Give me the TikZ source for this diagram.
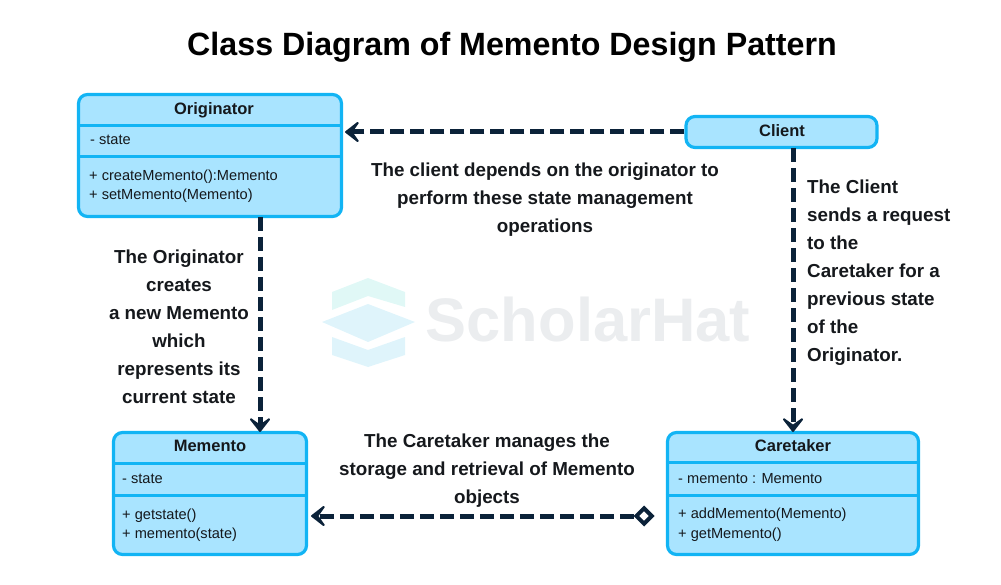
\documentclass[tikz,border=0pt]{standalone}
\usepackage{fontspec}
\setmainfont{Liberation Sans}
\usepackage{xcolor}
\usetikzlibrary{arrows.meta, positioning, shapes.geometric}
\definecolor{boxfill}{HTML}{A9E4FF}
\definecolor{boxline}{HTML}{12B4F4}
\definecolor{navy}{HTML}{0B2239}
\definecolor{inktext}{HTML}{15181C}
\definecolor{logotop}{HTML}{E0F8F6}
\definecolor{logoblue}{HTML}{DFF4FB}
\definecolor{logotext}{HTML}{EBEDEF}
\tikzset{
x=1pt, y=-1pt, % coordinates are counted from the top left corner
classbox/.style={draw=boxline, fill=boxfill, line width=3.2pt, rounded corners=9pt, inner sep=0pt},
divider/.style={draw=boxline, line width=3pt},
classname/.style={font=\fontsize{16.5}{20}\selectfont\bfseries, text=inktext},
member/.style={font=\fontsize{14.6}{19.5}\selectfont, text=inktext, anchor=west, align=left, inner sep=0pt},
note/.style={font=\fontsize{18.8}{28}\selectfont\bfseries, text=inktext, align=center, inner sep=0pt},
link/.style={draw=navy, line width=5pt, dash pattern=on 14pt off 6pt},
open head/.style={-{Stealth[length=18pt, width=28pt, inset=10pt, round, line width=2pt]}},
holder/.style={diamond, draw=navy, fill=white, line width=4pt, inner sep=0pt, minimum size=17pt},
}

\begin{document}
\begin{tikzpicture}
    \useasboundingbox (0,0) rectangle (1001,585);

    % faded logo behind everything
    \fill[logotop] (332,292) -- (368,278) -- (405,292) -- (405,307) -- (368,296) -- (332,310) -- cycle;
    \fill[logoblue] (322,322) -- (368,304) -- (415,322) -- (368,342) -- cycle;
    \fill[logoblue] (332,337) -- (368,350) -- (405,337) -- (405,355) -- (368,367) -- (332,355) -- cycle;
    \node[font=\fontsize{61.5}{64}\selectfont\bfseries, text=logotext, inner sep=0pt] (logo) at (588,320) {ScholarHat};

    \node[font=\fontsize{32.2}{36}\selectfont\bfseries, text=black, inner sep=0pt] (title) at (512,47) {Class Diagram of Memento Design Pattern};

    % the four classes
    \node[classbox, minimum width=263pt, minimum height=122pt] (originator) at (210,155.5) {};
    \node[classbox, minimum width=191pt, minimum height=31pt] (client) at (781.5,132) {};
    \node[classbox, minimum width=193pt, minimum height=122pt] (memento) at (210,493.5) {};
    \node[classbox, minimum width=251pt, minimum height=122pt] (caretaker) at (793,493.5) {};

    \draw[divider] (originator.west |- 0,125.5) -- (originator.east |- 0,125.5);
    \draw[divider] (originator.west |- 0,157) -- (originator.east |- 0,157);
    \draw[divider] (memento.west |- 0,463) -- (memento.east |- 0,463);
    \draw[divider] (memento.west |- 0,495) -- (memento.east |- 0,495);
    \draw[divider] (caretaker.west |- 0,462) -- (caretaker.east |- 0,462);
    \draw[divider] (caretaker.west |- 0,495) -- (caretaker.east |- 0,495);

    \node[classname] (originatorname) at (214,110) {Originator};
    \node[member] (originatorstate) at (90,140) {- state};
    \node[member] (originatorops) at (89,186) {+ createMemento():Memento\\+ setMemento(Memento)};

    \node[classname] (clientname) at (782,131) {Client};

    \node[classname] (mementoname) at (210,446) {Memento};
    \node[member] (mementostate) at (122,479) {- state};
    \node[member] (mementoops) at (122,525) {+ getstate()\\+ memento(state)};

    \node[classname] (caretakername) at (793,446) {Caretaker};
    \node[member] (caretakerstate) at (678,479) {- memento : Memento};
    \node[member] (caretakerops) at (678,524.5) {+ addMemento(Memento)\\+ getMemento()};

    % the notes beside the connectors
    \node[note] (noteclient) at (545,199.5) {The client depends on the originator to\\perform these state management\\operations};
    \node[note] (noteoriginator) at (179,327) {The Originator\\creates\\a new Memento\\which\\represents its\\current state};
    \node[note, align=left, anchor=north west] (noterequest) at (807,180) {The Client\\sends a request\\to the\\Caretaker for a\\previous state\\of the\\Originator.};
    \node[note] (notecaretaker) at (487,470.5) {The Caretaker manages the\\storage and retrieval of Memento\\objects};

    % connector ends on the box edges
    \coordinate (clientout) at (client.west);
    \coordinate (originatorin) at (clientout -| originator.east);
    \coordinate (originatorout) at (260,217);
    \coordinate (mementoin) at (originatorout |- memento.north);
    \coordinate (clientdown) at (793,148);
    \coordinate (caretakerin) at (clientdown |- caretaker.north);
    \coordinate (mementoback) at (memento.east |- 0,516);
    \node[holder] (holdpoint) at (644,516) {};

    \draw[link, open head] (clientout) -- ([xshift=2pt]originatorin);
    \draw[link, open head] (originatorout) -- ([yshift=-1pt]mementoin);
    \draw[link, open head] (clientdown) -- ([yshift=-1pt]caretakerin);
    \draw[link, open head] (holdpoint) -- ([xshift=3pt]mementoback);
\end{tikzpicture}
\end{document}
